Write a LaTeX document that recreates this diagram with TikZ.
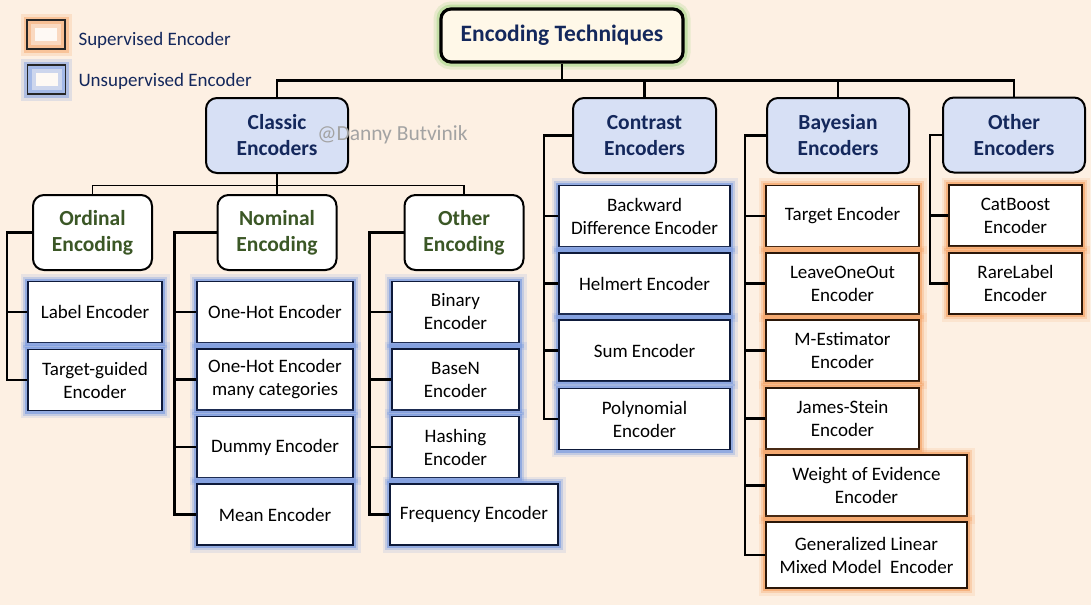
\documentclass[tikz,border=0pt]{standalone}
\usepackage{fontspec}
\setmainfont{Carlito}
\definecolor{bg}{HTML}{FDF0E3}
\definecolor{catfill}{HTML}{D7E0F5}
\definecolor{navy}{HTML}{14285C}
\definecolor{olive}{HTML}{3B5726}
\definecolor{glowB}{HTML}{7396E0}
\definecolor{glowO}{HTML}{F5A060}
\definecolor{glowG}{HTML}{A8D888}
\definecolor{titlefill}{HTML}{FFF8E8}
\definecolor{bordB}{HTML}{0E1A3A}
\definecolor{bordO}{HTML}{2A1608}
\tikzset{
  x=1pt, y=-1pt,
  leaftext/.style={font=\fontsize{19}{23}\selectfont, align=center, text=black},
  leaf/.style={leaftext, line width=1.7pt, fill=white, minimum width=#1, minimum height=61pt, inner sep=1pt},
  unsup/.style={leaf=#1, draw=bordB,
    preaction={draw=glowB, line width=15pt, opacity=0.15},
    preaction={draw=glowB, line width=10pt, opacity=0.3},
    preaction={draw=glowB, line width=6pt, opacity=0.6}},
  sup/.style={leaf=#1, draw=bordO,
    preaction={draw=glowO, line width=15pt, opacity=0.15},
    preaction={draw=glowO, line width=10pt, opacity=0.3},
    preaction={draw=glowO, line width=6pt, opacity=0.6}},
  catbox/.style={draw=black, line width=2pt, fill=catfill, rounded corners=11pt, minimum width=142pt, minimum height=75pt,
    align=center, text=navy, font=\fontsize{21.5}{26}\selectfont\bfseries},
  subbox/.style={draw=black, line width=2pt, fill=white, rounded corners=11pt, minimum width=119pt, minimum height=75pt,
    align=center, text=olive, font=\fontsize{21.5}{26}\selectfont\bfseries},
  titlebox/.style={draw=black, line width=3.2pt, fill=titlefill, rounded corners=10pt, minimum width=242pt, minimum height=53pt,
    text=navy, font=\fontsize{23.5}{28}\selectfont\bfseries,
    preaction={draw=glowG, line width=15pt, opacity=0.25},
    preaction={draw=glowG, line width=9pt, opacity=0.55}},
  legbox/.style={draw=black!85, line width=1.2pt, fill=bg!40!white, minimum width=38pt, minimum height=29pt,
    preaction={draw=#1, line width=13pt, opacity=0.2},
    preaction={draw=#1, line width=7pt, opacity=0.45},
    path picture={\draw[#1, line width=16pt, opacity=0.35] (path picture bounding box.south west) rectangle (path picture bounding box.north east);
                  \draw[#1, line width=8pt, opacity=0.45] (path picture bounding box.south west) rectangle (path picture bounding box.north east);}},
  legtext/.style={anchor=west, text=navy, font=\fontsize{19}{22}\selectfont},
  trunk/.style={draw=black, line width=2.8pt},
  branch/.style={draw=black, line width=1.8pt},
  twig/.style={draw=black, line width=2.2pt},
}
\begin{document}
\begin{tikzpicture}
\fill[bg] (0,0) rectangle (1091,605);
\useasboundingbox (0,0) rectangle (1091,605);

% legend
\node[legbox=glowO] (lego) at (46,34.5) {};
\node[legtext] (legot) at (75,40) {Supervised Encoder};
\node[legbox=glowB] (legb) at (46.5,79.5) {};
\node[legtext] (legbt) at (75,81) {Unsupervised Encoder};

% title
\node[titlebox] (title) at (562,35.5) {Encoding Techniques};

% categories
\node[catbox] (classic) at (277,135.5) {Classic\\Encoders};
\node[catbox, minimum width=143pt] (contrast) at (644.5,135.5) {Contrast\\Encoders};
\node[catbox] (bayes) at (838,135.5) {Bayesian\\Encoders};
\node[catbox] (otherenc) at (1014,135) {Other\\Encoders};

% subcategories
\node[subbox] (ordinal) at (92.5,232.5) {Ordinal\\Encoding};
\node[subbox] (nominal) at (277,232.5) {Nominal\\Encoding};
\node[subbox] (othercod) at (464,232.5) {Other\\Encoding};

% Ordinal leaves
\node[unsup=134pt] (label) at (95,312) {Label Encoder};
\node[unsup=134pt] (tguided) at (95,380) {Target-guided\\Encoder};

% Nominal leaves
\node[unsup=156pt] (onehot) at (275,312) {One-Hot Encoder};
\node[unsup=156pt] (onehotm) at (275,379.5) {One-Hot Encoder\\many categories};
\node[unsup=156pt] (dummy) at (275,447) {Dummy Encoder};
\node[unsup=156pt] (mean) at (275,514.5) {Mean Encoder};

% Other encoding leaves
\node[unsup=127pt] (binary) at (455.5,312) {Binary\\Encoder};
\node[unsup=127pt] (basen) at (455.5,379.5) {BaseN\\Encoder};
\node[unsup=127pt] (hashing) at (455.5,447) {Hashing\\Encoder};
\node[unsup=168pt] (freq) at (474,514.5) {Frequency Encoder};

% Contrast leaves
\node[unsup=171pt] (backward) at (644.5,216) {Backward\\Difference Encoder};
\node[unsup=171pt] (helmert) at (644.5,283.5) {Helmert Encoder};
\node[unsup=171pt] (sum) at (644.5,350.5) {Sum Encoder};
\node[unsup=171pt] (poly) at (644.5,419) {Polynomial\\Encoder};

% Bayesian leaves
\node[sup=153pt] (target) at (842.5,216) {Target Encoder};
\node[sup=153pt] (loo) at (842.5,283.5) {LeaveOneOut\\Encoder};
\node[sup=153pt] (mest) at (842.5,350.5) {M-Estimator\\Encoder};
\node[sup=153pt] (james) at (842.5,418.5) {James-Stein\\Encoder};
\node[sup=201pt] (woe) at (866.5,485.5) {Weight of Evidence\\Encoder};
\node[sup=201pt, minimum height=66pt] (glmm) at (866.5,555) {Generalized Linear\\Mixed Model~ Encoder};

% Other encoders leaves
\node[sup=133pt] (catboost) at (1015.5,215.5) {CatBoost\\Encoder};
\node[sup=133pt] (rare) at (1015.5,283.5) {RareLabel\\Encoder};

% trunk
\draw[trunk] (title.south) -- ++(0,17) coordinate (tj);
\draw[trunk] (classic.north) |- (tj) -| (otherenc.north);
\draw[trunk] (tj) -| (contrast.north);
\draw[trunk] (tj) -| (bayes.north);

% classic branches
\draw[branch] (classic.south) -- ++(0,11.5) coordinate (cj);
\draw[branch] (ordinal.north) |- (cj) -| (othercod.north);
\draw[branch] (cj) -- (nominal.north);

% twigs
\draw[twig] (ordinal.west) -- ++(-25,0) |- (label.west);
\draw[twig] (ordinal.west) -- ++(-25,0) |- (tguided.west);

\draw[twig] (nominal.west) -- ++(-42,0) |- (onehot.west);
\draw[twig] (nominal.west) -- ++(-42,0) |- (onehotm.west);
\draw[twig] (nominal.west) -- ++(-42,0) |- (dummy.west);
\draw[twig] (nominal.west) -- ++(-42,0) |- (mean.west);

\draw[twig] (othercod.west) -- ++(-34,0) |- (binary.west);
\draw[twig] (othercod.west) -- ++(-34,0) |- (basen.west);
\draw[twig] (othercod.west) -- ++(-34,0) |- (hashing.west);
\draw[twig] (othercod.west) -- ++(-34,0) |- (freq.west);

\draw[twig] (contrast.west) -- ++(-28,0) |- (backward.west);
\draw[twig] (contrast.west) -- ++(-28,0) |- (helmert.west);
\draw[twig] (contrast.west) -- ++(-28,0) |- (sum.west);
\draw[twig] (contrast.west) -- ++(-28,0) |- (poly.west);

\draw[twig] (bayes.west) -- ++(-21,0) |- (target.west);
\draw[twig] (bayes.west) -- ++(-21,0) |- (loo.west);
\draw[twig] (bayes.west) -- ++(-21,0) |- (mest.west);
\draw[twig] (bayes.west) -- ++(-21,0) |- (james.west);
\draw[twig] (bayes.west) -- ++(-21,0) |- (woe.west);
\draw[twig] (bayes.west) -- ++(-21,0) |- (glmm.west);

\draw[twig] (otherenc.west) -- ++(-12,0) |- (catboost.west);
\draw[twig] (otherenc.west) -- ++(-12,0) |- (rare.west);

% watermark (on top)
\node[text=black!36, font=\fontsize{21.5}{24}\selectfont] (wm) at (392.5,135) {@Danny Butvinik};
\end{tikzpicture}
\end{document}
